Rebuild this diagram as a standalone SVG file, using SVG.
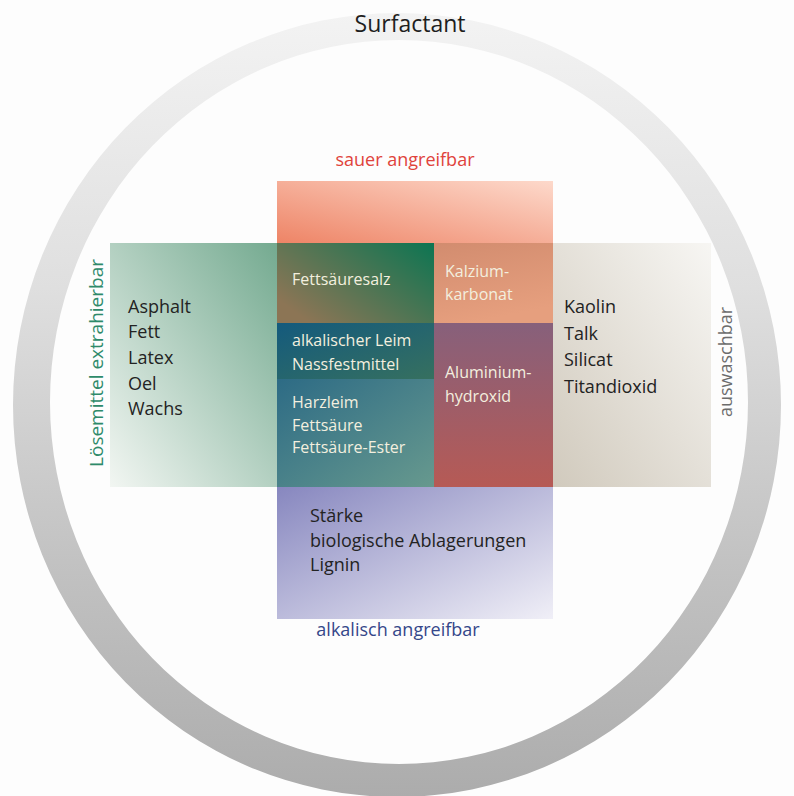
<svg xmlns="http://www.w3.org/2000/svg" width="794" height="796" viewBox="0 0 794 796">
<style>
text{font-family:"Open Sans","Liberation Sans",sans-serif}
.body{font-size:18px;fill:#232323}
.cell{font-size:16px;fill:#f3efdf}
.lbl{font-size:18px}
</style>
<defs>
<linearGradient id="gRing" x1="0" y1="0" x2="0" y2="1">
<stop offset="0" stop-color="#f3f3f3"/><stop offset="0.35" stop-color="#dfdfdf"/><stop offset="0.7" stop-color="#c2c2c2"/><stop offset="1" stop-color="#acacac"/>
</linearGradient>
<linearGradient id="gOrange" x1="0" y1="1" x2="1" y2="0">
<stop offset="0" stop-color="#ee8466"/><stop offset="1" stop-color="#fdd9cb"/>
</linearGradient>
<linearGradient id="gGreen" x1="1" y1="0" x2="0" y2="1">
<stop offset="0" stop-color="#74aa90"/><stop offset="1" stop-color="#f2f6f2"/>
</linearGradient>
<linearGradient id="gGray" x1="0" y1="1" x2="1" y2="0">
<stop offset="0" stop-color="#d1cabd"/><stop offset="1" stop-color="#f7f6f3"/>
</linearGradient>
<linearGradient id="gBlue" x1="0" y1="0" x2="1" y2="1">
<stop offset="0" stop-color="#8787bf"/><stop offset="1" stop-color="#f0eff7"/>
</linearGradient>
<linearGradient id="gSalz" x1="0" y1="0.7" x2="1" y2="0">
<stop offset="0" stop-color="#8c7555"/><stop offset="1" stop-color="#0c7552"/>
</linearGradient>
<linearGradient id="gKalz" x1="0" y1="0" x2="0.3" y2="1">
<stop offset="0" stop-color="#d28c6f"/><stop offset="1" stop-color="#e69f7e"/>
</linearGradient>
<linearGradient id="gLeim" x1="0" y1="0" x2="1" y2="1">
<stop offset="0" stop-color="#145a7d"/><stop offset="1" stop-color="#36705f"/>
</linearGradient>
<linearGradient id="gHarz" x1="0" y1="0" x2="1" y2="1">
<stop offset="0" stop-color="#2d6b85"/><stop offset="1" stop-color="#67998e"/>
</linearGradient>
<linearGradient id="gAlu" x1="0" y1="0" x2="0" y2="1">
<stop offset="0" stop-color="#87607b"/><stop offset="1" stop-color="#b65a55"/>
</linearGradient>
</defs>
<rect x="0" y="0" width="794" height="796" fill="#fdfdfd"/>
<g id="ring">
<path fill="url(#gRing)" fill-rule="evenodd" d="M13,405 A384,392 0 1,0 781,405 A384,392 0 1,0 13,405 Z M50,402 A349,362 0 1,0 748,402 A349,362 0 1,0 50,402 Z"/>
<text x="410" y="32" text-anchor="middle" style="font-size:23px;fill:#1e1e1e">Surfactant</text>
</g>
<g id="sauer">
<rect x="277" y="181" width="276" height="62" fill="url(#gOrange)"/>
<text class="lbl" x="405" y="166" text-anchor="middle" fill="#e0433c">sauer angreifbar</text>
</g>
<g id="loesemittel">
<rect x="110" y="243" width="167" height="244" fill="url(#gGreen)"/>
<text transform="translate(103,363) rotate(-90)" text-anchor="middle" style="font-size:19px" fill="#2e8a6a">Lösemittel extrahierbar</text>
<text class="body" x="128" y="313">Asphalt</text>
<text class="body" x="128" y="338">Fett</text>
<text class="body" x="128" y="364">Latex</text>
<text class="body" x="128" y="390">Oel</text>
<text class="body" x="128" y="415">Wachs</text>
</g>
<g id="auswaschbar">
<rect x="553" y="243" width="158" height="244" fill="url(#gGray)"/>
<text class="lbl" transform="translate(732,362) rotate(-90)" text-anchor="middle" fill="#6c6c6c">auswaschbar</text>
<text class="body" x="564" y="313">Kaolin</text>
<text class="body" x="564" y="340">Talk</text>
<text class="body" x="564" y="366">Silicat</text>
<text class="body" x="564" y="393">Titandioxid</text>
</g>
<g id="alkalisch">
<rect x="277" y="487" width="276" height="132" fill="url(#gBlue)"/>
<text class="body" x="310" y="522">Stärke</text>
<text class="body" x="310" y="547">biologische Ablagerungen</text>
<text class="body" x="310" y="571">Lignin</text>
<text class="lbl" x="398" y="636" text-anchor="middle" fill="#35478a">alkalisch angreifbar</text>
</g>
<g id="fettsaeuresalz">
<rect x="277" y="243" width="157" height="80" fill="url(#gSalz)"/>
<text class="cell" x="292" y="285">Fettsäuresalz</text>
</g>
<g id="kalziumkarbonat">
<rect x="434" y="243" width="119" height="80" fill="url(#gKalz)"/>
<text class="cell" x="445" y="277">Kalzium-</text>
<text class="cell" x="445" y="300">karbonat</text>
</g>
<g id="alkalischer-leim">
<rect x="277" y="323" width="157" height="56" fill="url(#gLeim)"/>
<text class="cell" x="292" y="346">alkalischer Leim</text>
<text class="cell" x="292" y="370">Nassfestmittel</text>
</g>
<g id="harzleim">
<rect x="277" y="379" width="157" height="108" fill="url(#gHarz)"/>
<text class="cell" x="292" y="408">Harzleim</text>
<text class="cell" x="292" y="431">Fettsäure</text>
<text class="cell" x="292" y="453">Fettsäure-Ester</text>
</g>
<g id="aluminiumhydroxid">
<rect x="434" y="323" width="119" height="164" fill="url(#gAlu)"/>
<text class="cell" x="445" y="378">Aluminium-</text>
<text class="cell" x="445" y="402">hydroxid</text>
</g>
<g id="connectors"/>
</svg>
